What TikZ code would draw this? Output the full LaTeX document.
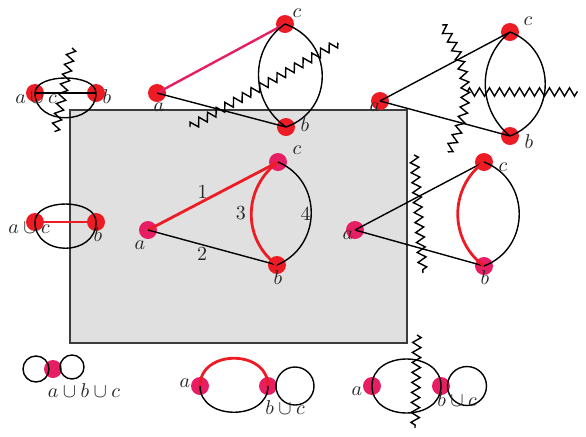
\documentclass[tikz,border=0pt]{standalone}
\usepackage{xcolor}
\usepackage{amsmath}
\usepackage{amssymb}
\usepackage{tikz}
\usetikzlibrary{shapes.geometric, arrows, positioning, calc, decorations.pathmorphing}
\definecolor{vertexred}{RGB}{237, 28, 36}
\definecolor{vertexpink}{RGB}{232, 30, 100}
\definecolor{panelgray}{RGB}{224, 224, 224}
\definecolor{panelrim}{RGB}{60, 60, 60}

\tikzset{
  reddot/.style={circle, fill=vertexred, inner sep=0pt, minimum size=9pt},
  pinkdot/.style={circle, fill=vertexpink, inner sep=0pt, minimum size=9pt},
  plainedge/.style={line width=0.7pt, black},
  rededge/.style={line width=1.4pt, vertexred},
  pinkedge/.style={line width=1.2pt, vertexpink},
  cutline/.style={line width=0.7pt, decorate, decoration={zigzag, segment length=5pt, amplitude=2.1pt}},
  lbl/.style={text=black!85, inner sep=0pt}
}

\begin{document}
\begin{tikzpicture}[x=0.5pt, y=-0.5pt]
        \useasboundingbox (0,0) rectangle (586,436);

        % Shaded panel
        \filldraw[fill=panelgray, draw=panelrim, line width=1pt] (70,110) rectangle (407,343);

        % Top left: a and c merged
        \node[reddot] (ac0) at (35,93) {};
        \node[reddot] (b0) at (96,93) {};
        \draw[plainedge] (ac0.center) -- (b0.center);
        \draw[plainedge] (ac0.center) .. controls +(0,-20) and +(0,-20) .. (b0.center);
        \draw[plainedge] (ac0.center) .. controls +(0,33) and +(0,33) .. (b0.center);
        \coordinate (cut0a) at (72,48);
        \coordinate (cut0b) at (55,132);
        \draw[cutline] (cut0a) -- (cut0b);
        \node[lbl] (lac0) at (36,98) {$a\cup c$};
        \node[lbl] (lb0) at (107,97) {$b$};

        % Top middle
        \node[reddot] (a1) at (157,93) {};
        \node[reddot] (c1) at (285,24) {};
        \node[reddot] (b1) at (286,127) {};
        \draw[pinkedge] (a1.center) -- (c1.center);
        \draw[plainedge] (a1.center) -- (b1.center);
        \draw[plainedge] (c1.center) .. controls +(-36,25) and +(-36,-25) .. (b1.center);
        \draw[plainedge] (c1.center) .. controls +(49,17) and +(49,-17) .. (b1.center);
        \coordinate (cut1a) at (190,127);
        \coordinate (cut1b) at (338,43);
        \draw[cutline] (cut1a) -- (cut1b);
        \node[lbl] (la1) at (159,107) {$a$};
        \node[lbl] (lc1) at (297,13) {$c$};
        \node[lbl] (lb1) at (305,125) {$b$};

        % Top right
        \node[reddot] (a2) at (380,101) {};
        \node[reddot] (c2) at (510,32) {};
        \node[reddot] (b2) at (510,136) {};
        \draw[plainedge] (a2.center) -- (c2.center);
        \draw[plainedge] (a2.center) -- (b2.center);
        \draw[plainedge] (c2.center) .. controls +(-33,27) and +(-33,-27) .. (b2.center);
        \draw[plainedge] (c2.center) .. controls +(47,18) and +(47,-18) .. (b2.center);
        \coordinate (cut2a) at (467,92);
        \coordinate (cut2b) at (578,92);
        \draw[cutline] (cut2a) -- (cut2b);
        \coordinate (cut2c) at (442,25);
        \coordinate (cut2d) at (448,152);
        \draw[cutline] (cut2c) .. controls (472,70) and (472,110) .. (cut2d);
        \node[lbl] (la2) at (375,107) {$a$};
        \node[lbl] (lc2) at (528,21) {$c$};
        \node[lbl] (lb2) at (529,142) {$b$};

        % Middle left
        \node[reddot] (ac3) at (35,222) {};
        \node[reddot] (b3) at (96,222) {};
        \draw[rededge] (ac3.center) -- (b3.center);
        \draw[plainedge] (ac3.center) .. controls +(0,-24) and +(0,-24) .. (b3.center);
        \draw[plainedge] (ac3.center) .. controls +(0,35) and +(0,35) .. (b3.center);
        \node[lbl] (lac3) at (29,228) {$a\cup c$};
        \node[lbl] (lb3) at (98,235) {$b$};

        % Middle, inside the panel
        \node[pinkdot] (a4) at (148,230) {};
        \node[pinkdot] (c4) at (278,162) {};
        \node[reddot] (b4) at (277,265) {};
        \draw[rededge] (a4.center) -- (c4.center) node[pos=0.42, above, inner sep=1pt, text=black!85] {1};
        \draw[plainedge] (a4.center) -- (b4.center) node[pos=0.42, below, inner sep=1pt, text=black!85] {2};
        \draw[rededge] (c4.center) .. controls +(-35,26) and +(-35,-26) .. (b4.center) node[midway, left, inner sep=2pt, text=black!85] {3};
        \draw[plainedge] (c4.center) .. controls +(45,19) and +(45,-19) .. (b4.center) node[midway, anchor=east, inner sep=0pt, text=black!85] {4};
        \node[lbl] (la4) at (140,245) {$a$};
        \node[lbl] (lc4) at (297,150) {$c$};
        \node[lbl] (lb4) at (278,278) {$b$};

        % Middle right
        \node[pinkdot] (a5) at (355,230) {};
        \node[reddot] (c5) at (484,162) {};
        \node[pinkdot] (b5) at (484,266) {};
        \draw[plainedge] (a5.center) -- (c5.center);
        \draw[plainedge] (a5.center) -- (b5.center);
        \draw[rededge] (c5.center) .. controls +(-35,26) and +(-35,-26) .. (b5.center);
        \draw[plainedge] (c5.center) .. controls +(47,18) and +(47,-18) .. (b5.center);
        \coordinate (cut5a) at (414,155);
        \coordinate (cut5b) at (423,273);
        \draw[cutline] (cut5a) -- (cut5b);
        \node[lbl] (la5) at (348,235) {$a$};
        \node[lbl] (lc5) at (503,167) {$c$};
        \node[lbl] (lb5) at (485,278) {$b$};

        % Bottom left: all merged
        \node[pinkdot] (abc6) at (53,369) {};
        \draw[plainedge] (36,369) circle[radius=6.5pt];
        \draw[plainedge] (72,367) circle[radius=6pt];
        \node[lbl] (labc6) at (84,391) {$a\cup b\cup c$};

        % Bottom middle
        \node[pinkdot] (a7) at (200,386) {};
        \node[pinkdot] (bc7) at (268,386) {};
        \draw[rededge] (a7.center) .. controls +(0,-37) and +(0,-37) .. (bc7.center);
        \draw[plainedge] (a7.center) .. controls +(0,35) and +(0,35) .. (bc7.center);
        \draw[plainedge] (295,386) circle[radius=9.5pt];
        \node[lbl] (la7) at (185,383) {$a$};
        \node[lbl] (lbc7) at (285,408) {$b\cup c$};

        % Bottom right
        \node[pinkdot] (a8) at (372,386) {};
        \node[pinkdot] (bc8) at (441,386) {};
        \draw[plainedge] (a8.center) .. controls +(0,-36) and +(0,-36) .. (bc8.center);
        \draw[plainedge] (a8.center) .. controls +(0,36) and +(0,36) .. (bc8.center);
        \draw[plainedge] (467,386) circle[radius=9.75pt];
        \coordinate (cut8a) at (417,335);
        \coordinate (cut8b) at (415,428);
        \draw[cutline] (cut8a) -- (cut8b);
        \node[lbl] (la8) at (357,391) {$a$};
        \node[lbl] (lbc8) at (457,400) {$b\cup c$};
    \end{tikzpicture}
\end{document}
